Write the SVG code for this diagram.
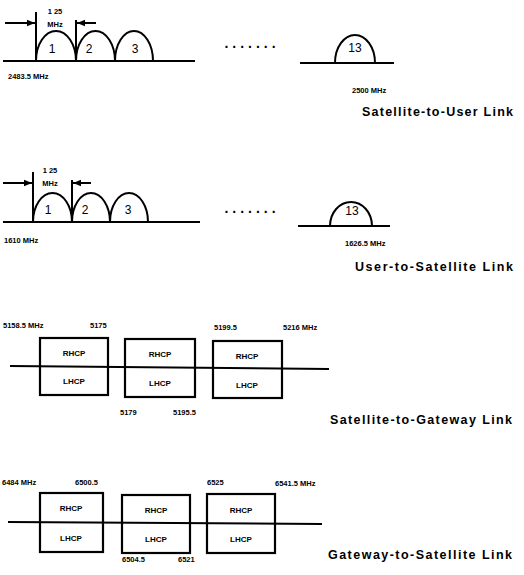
<svg xmlns="http://www.w3.org/2000/svg" width="524" height="575" viewBox="0 0 524 575">
<style>
.ln{stroke:#000;stroke-width:2;fill:none}
.bx{stroke:#000;stroke-width:2.2;fill:none}
.t{font-family:"Liberation Sans",Arial,sans-serif;font-weight:bold;fill:#000}
.f{font-size:7.5px}
.n{font-size:12px;font-weight:normal}
.p{font-size:8px}
.lk{font-size:12.5px}
</style>
<defs>
<marker id="ah" viewBox="0 0 10 10" refX="10" refY="5" markerWidth="4" markerHeight="4" orient="auto">
<path d="M0,1 L10,5 L0,9 z" fill="#000"/>
</marker>
</defs>
<rect width="524" height="575" fill="#fff"/>

<g id="connectors">
<line class="ln" x1="3" y1="61" x2="195" y2="61"/>
<line class="ln" x1="300" y1="63" x2="394" y2="63"/>
<line class="ln" x1="36" y1="12" x2="36" y2="61"/>
<line class="ln" x1="76" y1="20" x2="76" y2="61"/>
<line class="ln" x1="5" y1="23" x2="35" y2="23" marker-end="url(#ah)"/>
<line class="ln" x1="96" y1="23" x2="77" y2="23" marker-end="url(#ah)"/>
<line class="ln" x1="3" y1="222" x2="200" y2="222"/>
<line class="ln" x1="298" y1="226" x2="390" y2="226"/>
<line class="ln" x1="33" y1="172" x2="33" y2="222"/>
<line class="ln" x1="72" y1="180" x2="72" y2="222"/>
<line class="ln" x1="3" y1="183" x2="32" y2="183" marker-end="url(#ah)"/>
<line class="ln" x1="91" y1="183" x2="73" y2="183" marker-end="url(#ah)"/>
<line class="ln" x1="10" y1="366" x2="329" y2="369"/>
<line class="ln" x1="8" y1="522" x2="322" y2="524"/>
</g>

<g id="sat-user-channels">
<path class="ln" d="M36,61 A20,30 0 0 1 76,61"/>
<path class="ln" d="M76,61 A19.5,30 0 0 1 115,61"/>
<path class="ln" d="M115,61 A19,30 0 0 1 153,61"/>
<path class="ln" d="M335,63 A20,28 0 0 1 375,63"/>
<text class="t n" x="52" y="53" text-anchor="middle">1</text>
<text class="t n" x="89" y="53" text-anchor="middle">2</text>
<text class="t n" x="135" y="53" text-anchor="middle">3</text>
<text class="t n" x="355" y="52" text-anchor="middle">13</text>
<text class="t" x="252" y="48" font-size="14" text-anchor="middle" letter-spacing="4">.......</text>
<text class="t f" x="55" y="14" text-anchor="middle">1 25</text>
<text class="t f" x="55" y="27" text-anchor="middle">MHz</text>
<text class="t f" x="8" y="79">2483.5 MHz</text>
<text class="t f" x="352" y="93">2500 MHz</text>
<text class="t lk" x="362" y="116" textLength="151" lengthAdjust="spacing">Satellite-to-User Link</text>
</g>

<g id="user-sat-channels">
<path class="ln" d="M33,222 A19.5,29 0 0 1 72,222"/>
<path class="ln" d="M72,222 A19,29 0 0 1 110,222"/>
<path class="ln" d="M110,222 A19,29 0 0 1 148,222"/>
<path class="ln" d="M330,226 A21,24 0 0 1 372,226"/>
<text class="t n" x="48" y="214" text-anchor="middle">1</text>
<text class="t n" x="85" y="214" text-anchor="middle">2</text>
<text class="t n" x="128" y="214" text-anchor="middle">3</text>
<text class="t n" x="352" y="215" text-anchor="middle">13</text>
<text class="t" x="252" y="213" font-size="14" text-anchor="middle" letter-spacing="4">.......</text>
<text class="t f" x="50" y="173" text-anchor="middle">1 25</text>
<text class="t f" x="50" y="186" text-anchor="middle">MHz</text>
<text class="t f" x="4" y="243">1610 MHz</text>
<text class="t f" x="345" y="246">1626.5 MHz</text>
<text class="t lk" x="355" y="271" textLength="158" lengthAdjust="spacing">User-to-Satellite Link</text>
</g>

<g id="sat-gw-ch1">
<rect class="bx" x="40" y="338" width="68" height="57"/>
<text class="t p" x="74" y="356" text-anchor="middle">RHCP</text>
<text class="t p" x="74" y="384" text-anchor="middle">LHCP</text>
</g>
<g id="sat-gw-ch2">
<rect class="bx" x="125" y="339" width="70" height="58"/>
<text class="t p" x="160" y="357" text-anchor="middle">RHCP</text>
<text class="t p" x="160" y="386" text-anchor="middle">LHCP</text>
</g>
<g id="sat-gw-ch3">
<rect class="bx" x="213" y="341" width="69" height="57"/>
<text class="t p" x="247" y="359" text-anchor="middle">RHCP</text>
<text class="t p" x="247" y="388" text-anchor="middle">LHCP</text>
</g>
<g id="sat-gw-labels">
<text class="t f" x="3" y="328">5158.5 MHz</text>
<text class="t f" x="90" y="328">5175</text>
<text class="t f" x="214" y="330">5199.5</text>
<text class="t f" x="283" y="330">5216 MHz</text>
<text class="t f" x="120" y="415">5179</text>
<text class="t f" x="173" y="415">5195.5</text>
<text class="t lk" x="330" y="424" textLength="182" lengthAdjust="spacing">Satellite-to-Gateway Link</text>
</g>

<g id="gw-sat-ch1">
<rect class="bx" x="40" y="493" width="63" height="59"/>
<text class="t p" x="71" y="511" text-anchor="middle">RHCP</text>
<text class="t p" x="71" y="541" text-anchor="middle">LHCP</text>
</g>
<g id="gw-sat-ch2">
<rect class="bx" x="122" y="495" width="68" height="58"/>
<text class="t p" x="156" y="513" text-anchor="middle">RHCP</text>
<text class="t p" x="156" y="542" text-anchor="middle">LHCP</text>
</g>
<g id="gw-sat-ch3">
<rect class="bx" x="207" y="494" width="68" height="59"/>
<text class="t p" x="241" y="513" text-anchor="middle">RHCP</text>
<text class="t p" x="241" y="542" text-anchor="middle">LHCP</text>
</g>
<g id="gw-sat-labels">
<text class="t f" x="2" y="485">6484 MHz</text>
<text class="t f" x="75" y="485">6500.5</text>
<text class="t f" x="207" y="485">6525</text>
<text class="t f" x="275" y="486">6541.5 MHz</text>
<text class="t f" x="122" y="562">6504.5</text>
<text class="t f" x="178" y="562">6521</text>
<text class="t lk" x="328" y="559" textLength="184" lengthAdjust="spacing">Gateway-to-Satellite Link</text>
</g>
</svg>
